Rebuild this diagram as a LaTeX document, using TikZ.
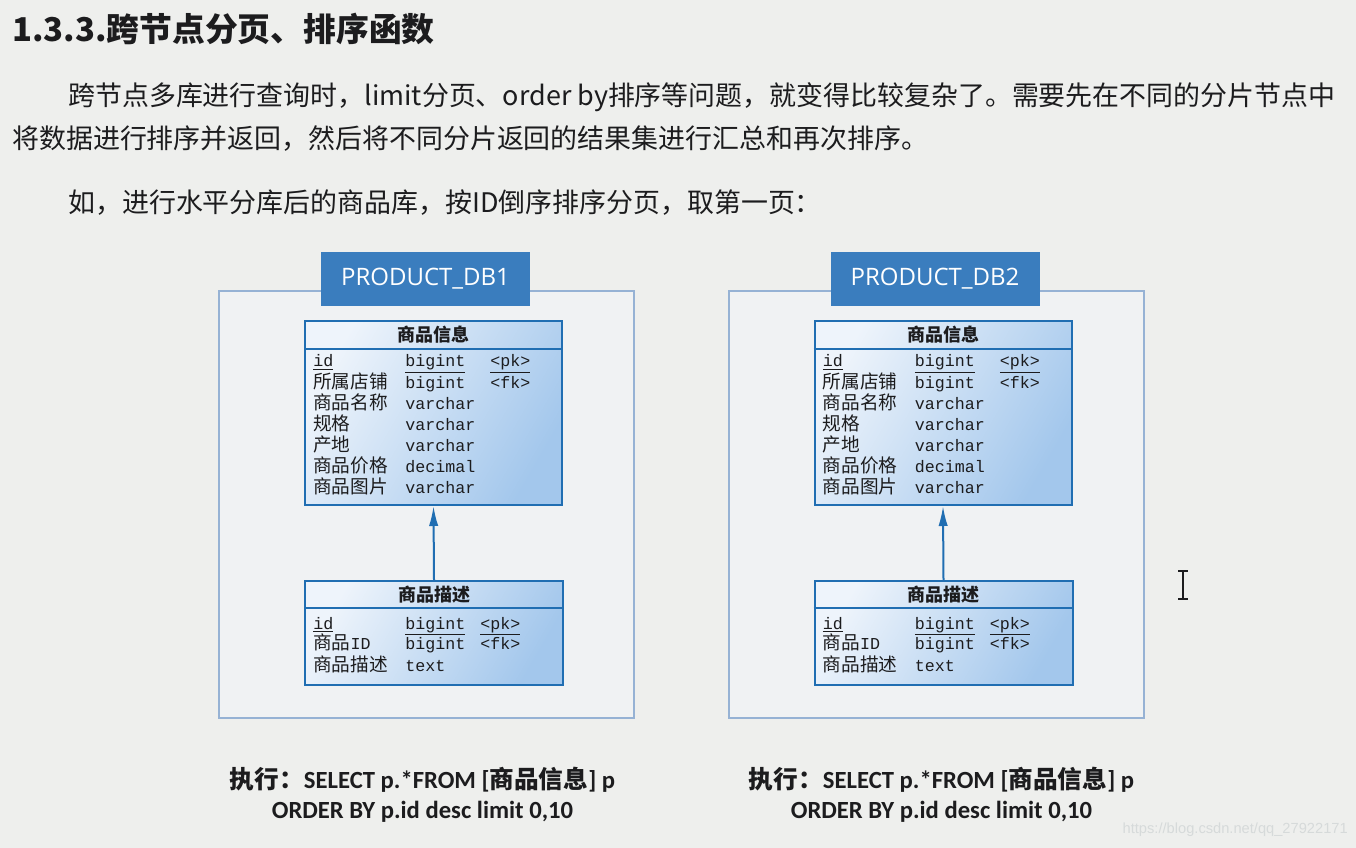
\documentclass[tikz,border=0pt]{standalone}
\usepackage{fontspec}
\setmainfont{Noto Sans CJK SC}
\newfontfamily\cjkf{Noto Sans CJK SC}
\newfontfamily\monof{Liberation Mono}
\newfontfamily\hdrf{Open Sans}
\newfontfamily\capf{Carlito}
\newfontfamily\urlf{Liberation Sans}
\usetikzlibrary{arrows.meta,calc}
\definecolor{bg}{RGB}{238,239,237}
\definecolor{ink}{RGB}{28,28,30}
\definecolor{dbline}{RGB}{150,178,212}
\definecolor{dbfill}{RGB}{240,242,243}
\definecolor{hdrfill}{RGB}{58,125,190}
\definecolor{tblline}{RGB}{32,110,178}
\definecolor{tbllight}{RGB}{238,244,251}
\definecolor{tbldark}{RGB}{163,199,236}
\definecolor{wm}{RGB}{214,218,218}
\newcommand\fsz[1]{\fontsize{#1}{#1}\selectfont}
\begin{document}
\begin{tikzpicture}[x=0.75pt,y=-0.75pt,
  txt/.style={inner sep=0pt, text=ink},
  dbbox/.style={draw=dbline, line width=1.5pt, fill=dbfill},
  dbhdr/.style={fill=hdrfill, text=white, inner sep=0pt, minimum width=156.75pt, minimum height=40.5pt, font=\hdrf\fsz{18}},
  tbl/.style={draw=tblline, line width=1.5pt, inner sep=0pt, left color=tbllight, right color=tbldark, shading angle=60},
  cell/.style={inner sep=0pt, text=ink, anchor=base west},
  capt/.style={inner sep=0pt, text=ink, align=center, font={\fontsize{18.5}{22.5}\selectfont\bfseries\capf}},
  link/.style={draw=tblline, line width=1.5pt, -{Latex[length=15pt,width=7pt]}}]
\fill[bg] (0,0) rectangle (1356,848);
\useasboundingbox (0,0) rectangle (1356,848);

% title and paragraph
\node[txt, anchor=west] (title) at (12,29) {\fsz{24.6}\bfseries 1.3.3.跨节点分页、排序函数};
\node[txt, anchor=west] (p1) at (68,97) {\fsz{20.2}跨节点多库进行查询时，limit分页、order by排序等问题，就变得比较复杂了。需要先在不同的分片节点中};
\node[txt, anchor=west] (p2) at (12,139) {\fsz{20.2}将数据进行排序并返回，然后将不同分片返回的结果集进行汇总和再次排序。};
\node[txt, anchor=west] (p3) at (68,203) {\fsz{20.2}如，进行水平分库后的商品库，按ID倒序排序分页，取第一页：};

\foreach \k/\dx/\cx in {1/0/422.5, 2/509.5/941.5} {
  \begin{scope}[shift={(\dx,0)}]
    \draw[dbbox] (219,291) rectangle (634,718);
    \node[dbhdr] (db\k) at (425.5,279) {PRODUCT\_DB\k};
    % table 1
    \node[tbl, minimum width=192.75pt, minimum height=138pt] (ta\k) at (433.5,413) {};
    \draw[tblline, line width=1.5pt] ($(ta\k.north west)+(0,29)$) -- ($(ta\k.north east)+(0,29)$);
    \node[txt] (tah\k) at (433.5,335) {\fsz{13.5}\bfseries 商品信息};
    \node[cell] (tan\k1) at (313,367) {\monof\fsz{12.5}\underline{id}};
    \node[cell] (tat\k1) at (405,367) {\monof\fsz{12.5}\underline{bigint}};
    \node[cell] (tak\k1) at (490,367) {\monof\fsz{12.5}\underline{<pk>}};
    \node[cell] (tak\k2) at (490,388) {\monof\fsz{12.5}<fk>};
    \foreach \i/\nm/\ty in {2/所属店铺/bigint, 3/商品名称/varchar, 4/规格/varchar, 5/产地/varchar, 6/商品价格/decimal, 7/商品图片/varchar} {
      \node[cell] (tan\k\i) at (313,{367+(\i-1)*21.1}) {\cjkf\fsz{14}\nm};
      \node[cell] (tat\k\i) at (405,{367+(\i-1)*21.1}) {\monof\fsz{12.5}\ty};
    }
    % table 2
    \node[tbl, minimum width=193.5pt, minimum height=78pt] (tb\k) at (434,633) {};
    \draw[tblline, line width=1.5pt] ($(tb\k.north west)+(0,28)$) -- ($(tb\k.north east)+(0,28)$);
    \node[txt] (tbh\k) at (434,595) {\fsz{13.5}\bfseries 商品描述};
    \node[cell] (tbn\k1) at (313,629) {\monof\fsz{12.5}\underline{id}};
    \node[cell] (tbt\k1) at (405,629) {\monof\fsz{12.5}\underline{bigint}};
    \node[cell] (tbk\k1) at (480,629) {\monof\fsz{12.5}\underline{<pk>}};
    \node[cell] (tbn\k2) at (313,649) {{\cjkf\fsz{14}商品}{\monof\fsz{12.5}ID}};
    \node[cell] (tbt\k2) at (405,649) {\monof\fsz{12.5}bigint};
    \node[cell] (tbk\k2) at (480,649) {\monof\fsz{12.5}<fk>};
    \node[cell] (tbn\k3) at (313,671) {\cjkf\fsz{14}商品描述};
    \node[cell] (tbt\k3) at (405,671) {\monof\fsz{12.5}text};
    \draw[link] (tb\k.north) -- (ta\k.south);
  \end{scope}
  \node[capt] (cap\k) at (\cx,795) {{\cjkf 执行：}SELECT p.*FROM [{\cjkf 商品信息}] p\\ORDER BY p.id desc limit 0,10};
}

% text cursor
\draw[ink, line width=1.4pt] (1183,571) -- (1183,599) (1178,571) -- (1188,571) (1178,599) -- (1188,599);
% watermark
\node[inner sep=0pt, anchor=east, text=wm] (wmk) at (1348,830) {\urlf\fsz{11}https://blog.csdn.net/qq\_27922171};
\end{tikzpicture}
\end{document}
